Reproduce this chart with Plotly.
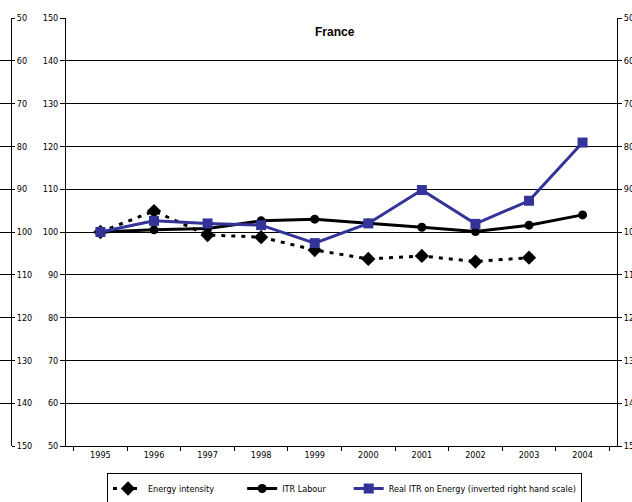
import plotly.graph_objects as go

years = ['1995', '1996', '1997', '1998', '1999', '2000', '2001', '2002', '2003', '2004']
energy_intensity = [100, 104.9, 99.3, 98.8, 95.8, 93.7, 94.4, 93.1, 94.0, None]
itr_labour = [100, 100.5, 100.8, 102.6, 103.0, 102.1, 101.1, 100.1, 101.6, 104.0]
real_itr_energy = [100, 97.4, 98.0, 98.4, 102.6, 98.0, 90.2, 98.1, 92.7, 79.1]
scale_ticks = [50, 60, 70, 80, 90, 100, 110, 120, 130, 140, 150]

W, H = 632, 502
T, B = 18, 56
fam = 'Arial Narrow, DejaVu Sans Condensed, sans-serif'
font = dict(family=fam, size=9, color='black')
pad = '\u00a0'

fig = go.Figure()
fig.add_trace(go.Scatter(
    x=years, y=energy_intensity, name='Energy intensity' + pad * 9, mode='lines+markers',
    line=dict(color='black', width=3, dash='4px,6px'),
    marker=dict(symbol='diamond', size=11, color='black')))
fig.add_trace(go.Scatter(
    x=years, y=itr_labour, name='ITR Labour' + pad * 7, mode='lines+markers',
    line=dict(color='black', width=3),
    marker=dict(symbol='circle', size=9, color='black')))
fig.add_trace(go.Scatter(
    x=years, y=real_itr_energy, name='Real ITR on Energy (inverted right hand scale)',
    mode='lines+markers', yaxis='y2',
    line=dict(color='#333399', width=3),
    marker=dict(symbol='square', size=10, color='#333399')))

# strip of the neighbouring chart's inverted axis at the far left
fig.add_trace(go.Scatter(x=[0, 1], y=[None, None], xaxis='x3', yaxis='y3',
                         showlegend=False, hoverinfo='skip'))

fig.update_layout(
    width=W, height=H,
    margin=dict(l=0, r=0, t=T, b=B, autoexpand=False),
    paper_bgcolor='white', plot_bgcolor='white',
    font=font,
    showlegend=True,
    legend=dict(orientation='h', x=107 / W, xanchor='left', y=-27 / (H - T - B), yanchor='top',
                bordercolor='black', borderwidth=1, font=font,
                itemwidth=30, tracegroupgap=0),
    xaxis=dict(domain=[66 / W, 617 / W], type='category', tickson='boundaries',
               ticks='outside', ticklen=4, tickcolor='black',
               showline=True, linecolor='black', linewidth=1, showgrid=False,
               tickfont=font),
    yaxis=dict(range=[50, 150], tickvals=scale_ticks, ticks='outside', ticklen=5,
               tickcolor='black', showline=True, linecolor='black', linewidth=1,
               showgrid=True, gridcolor='black', gridwidth=1, zeroline=False,
               tickfont=font),
    yaxis2=dict(range=[150, 50], tickvals=scale_ticks, overlaying='y', side='right',
                ticks='outside', ticklen=4, tickcolor='black', showline=True,
                linecolor='black', linewidth=1, showgrid=False, zeroline=False,
                tickfont=font),
    xaxis3=dict(domain=[0, 11 / W], anchor='y3', visible=False, range=[0, 1]),
    yaxis3=dict(range=[150, 50], tickvals=scale_ticks, side='right', anchor='x3',
                ticks='outside', ticklen=3, tickcolor='black', showline=True,
                linecolor='black', linewidth=1, showgrid=True, gridcolor='black',
                gridwidth=1, zeroline=False, tickfont=font),
    annotations=[dict(text='<b>France</b>', x=335 / W, xref='paper', xanchor='center',
                      y=1 - 14 / (H - T - B), yref='paper', yanchor='middle', showarrow=False,
                      font=dict(family='Liberation Sans, Arial, sans-serif', size=12))],
)

fig.write_html('out.html', config={'displayModeBar': False},
               post_script="document.body.style.margin='0';document.body.style.overflow='hidden';")
